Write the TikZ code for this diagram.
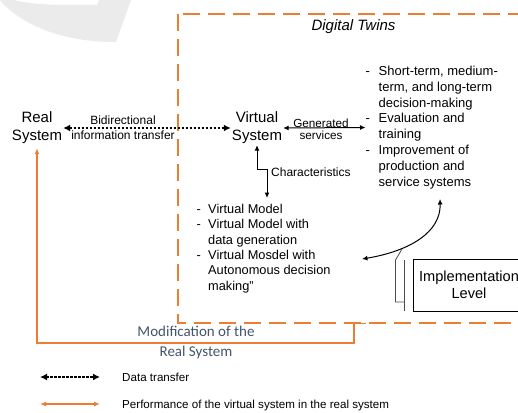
\documentclass[tikz,border=0pt]{standalone}
\usepackage{fontspec}
\setmainfont{Liberation Sans}
\newfontfamily\calfont{Carlito}
\usetikzlibrary{arrows.meta}
\definecolor{dtorange}{HTML}{ED7D31}
\definecolor{modtext}{HTML}{44546A}
\newcommand\lstdash[1]{\makebox[#1][l]{-}}
\newcommand\lstind[1]{\hspace*{#1}}
\begin{document}
\begin{tikzpicture}[x=1pt,y=-1pt,
  every node/.style={inner sep=0pt},
  sysnode/.style={align=center, font=\fontsize{15}{18}\selectfont, inner sep=1pt},
  lbl/.style={align=center, font=\fontsize{12}{15}\selectfont},
  listtext/.style={align=left, font=\fontsize{13}{15.86}\selectfont},
  listtextb/.style={align=left, font=\fontsize{12.8}{15.4}\selectfont},
  legtext/.style={anchor=west, font=\fontsize{11.6}{14}\selectfont},
  dotarrow/.style={line width=2.2pt, dash pattern=on 2.2pt off 1.8pt,
     {Latex[length=7pt,width=7pt]}-{Latex[length=7pt,width=7pt]}},
  thinarrow/.style={line width=1pt, {Latex[length=5.5pt,width=5pt]}-{Latex[length=5.5pt,width=5pt]}},
  orangeline/.style={draw=dtorange, line width=1.4pt},
  dtframe/.style={draw=dtorange, line width=2.6pt, dash pattern=on 17pt off 8pt},
  shadowline/.style={draw=black!70, line width=0.8pt},
]
\useasboundingbox (0,0) rectangle (518,412);
\clip (0,0) rectangle (518,412);

% faint watermark
\fill[gray!16] (0,0) -- (3,4) .. controls (30,30) and (70,42) .. (116,42)
  -- (131,0) -- (99,0) -- (97,5) -- (70,5) .. controls (45,5) and (25,3) .. (14,0) -- cycle;

% Digital twins frame
\draw[dtframe] (178,14) rectangle (580,323);
\node[font=\fontsize{15}{18}\selectfont\itshape] (dt) at (353.5,27) {Digital Twins};

% systems
\node[sysnode] (rs) at (37,128) {Real\\System};
\node[sysnode] (vs) at (257,128) {Virtual\\System};

\draw[dotarrow] (rs.east) -- (vs.west);
\node[lbl] (bit) at (123,127.5) {Bidirectional\\information transfer};

% services list
\node[listtext, anchor=west] (svc) at (365.5,127.5) {\lstdash{13pt}Short-term, medium-\\\lstind{13pt}term, and long-term\\\lstind{13pt}decision-making\\\lstdash{13pt}Evaluation and\\\lstind{13pt}training\\\lstdash{13pt}Improvement of\\\lstind{13pt}production and\\\lstind{13pt}service systems};
\draw[thinarrow] (vs.east) -- (svc.west);
\node[align=center, font=\fontsize{11.7}{12.3}\selectfont] (gs) at (321,129) {Generated\\services};

% characteristics
\node[listtextb, anchor=west] (chars) at (196.5,248.5) {\lstdash{11.5pt}Virtual Model\\\lstdash{11.5pt}Virtual Model with\\\lstind{11.5pt}data generation\\\lstdash{11.5pt}Virtual Mosdel with\\\lstind{11.5pt}Autonomous decision\\\lstind{11.5pt}making"};
\coordinate (chtop) at (267,198);
\draw[thinarrow] (vs.south) -- ++(0,24) -| (chtop);
\node[anchor=west, font=\fontsize{12}{14}\selectfont] (chl) at (271,172.5) {Characteristics};

% curved arrow
\coordinate (ca) at (362,259);
\coordinate (cb) at (440,199);
\draw[thinarrow] (ca) .. controls (410,251) and (441,232) .. (cb);
\coordinate (s1) at (402,249);
\coordinate (s2) at (395.5,260);
\coordinate (s3) at (395.5,302);
\coordinate (s4) at (404,302);
\coordinate (s5) at (404,260);
\coordinate (s6) at (404,311);
\draw[shadowline] (s1) -- (s2) -- (s3) -- (s4);
\draw[shadowline] (s5) -- (s6);

% implementation level
\node[draw, line width=0.9pt, minimum width=112pt, minimum height=52pt, align=center,
  font=\fontsize{14.6}{17}\selectfont] (impl) at (469,285) {Implementation\\Level};

% modification of the real system
\coordinate (m1) at (354,343);
\coordinate (m2) at (354,323.5);
\coordinate (m3) at (366,323.5);
\draw[orangeline, {Latex[length=6pt,width=5pt]}-] ([yshift=-3pt]rs.south) |- (m1) -- (m2) -- (m3);
\node[align=center, text=modtext, font=\calfont\fontsize{15}{20}\selectfont] (mod) at (196,342) {Modification of the\\Real System};

% legend
\coordinate (l1a) at (40,377);
\coordinate (l1b) at (100,377);
\coordinate (l2a) at (40,404);
\coordinate (l2b) at (100,404);
\draw[dotarrow] (l1a) -- (l1b);
\draw[orangeline, {Latex[length=6pt,width=5pt]}-{Latex[length=6pt,width=5pt]}] (l2a) -- (l2b);
\node[legtext] (lt1) at (122,377) {Data transfer};
\node[legtext] (lt2) at (122,405) {Performance of the virtual system in the real system};
\end{tikzpicture}
\end{document}
